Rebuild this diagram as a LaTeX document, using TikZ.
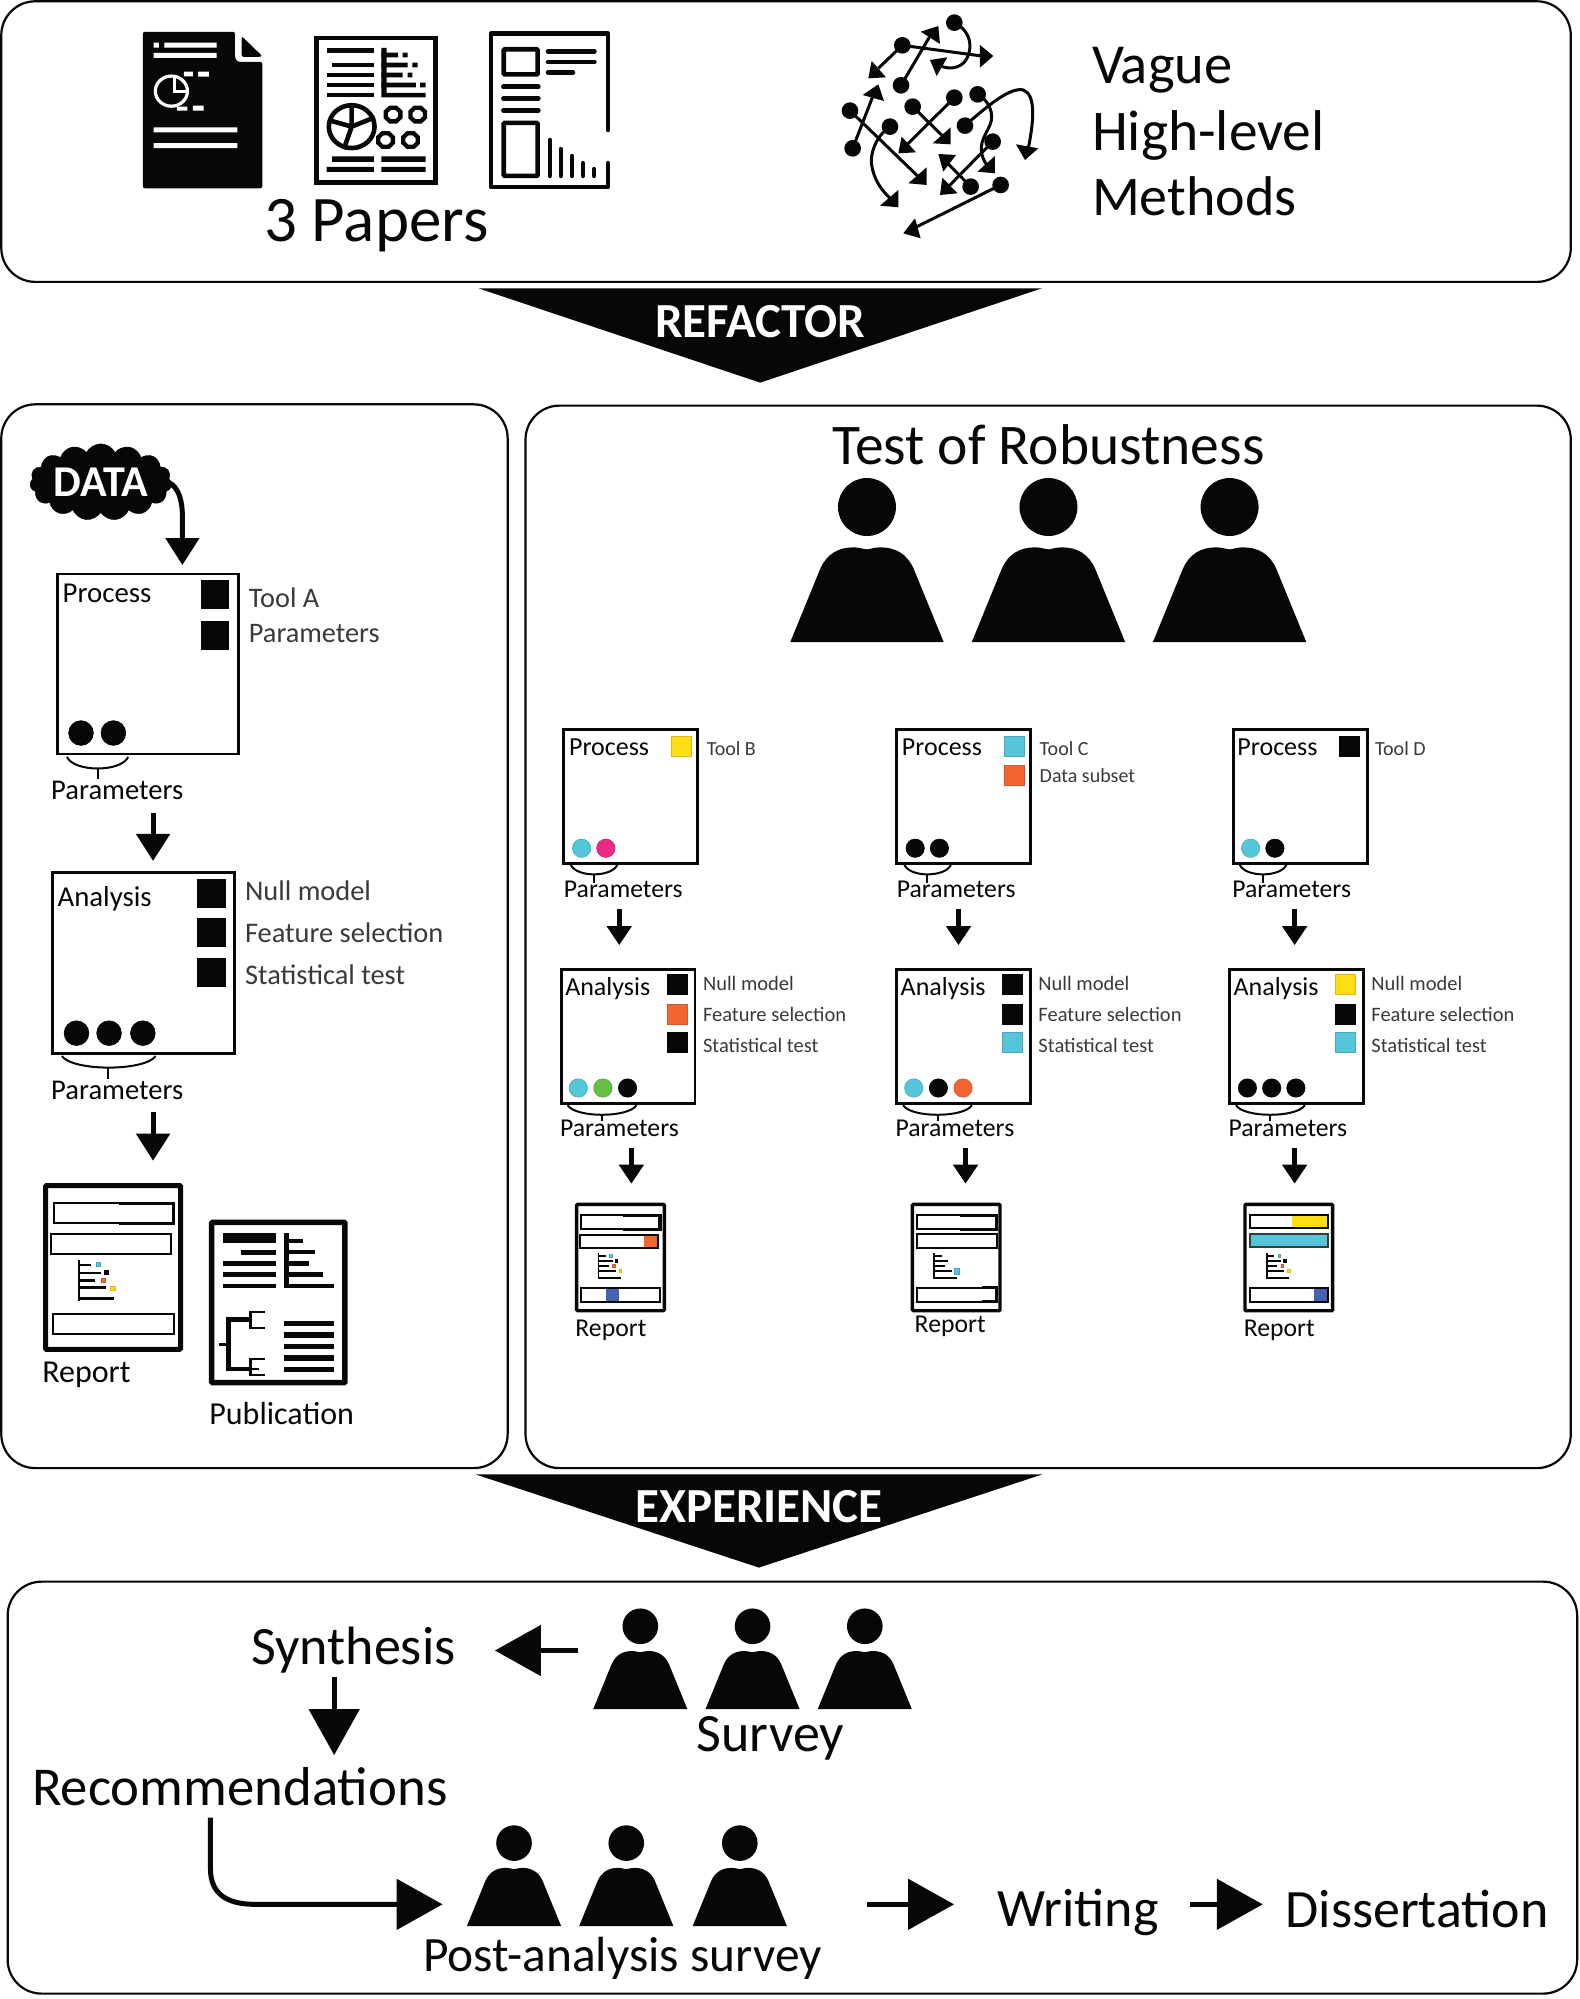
\documentclass[tikz,border=0pt]{standalone}
\usepackage{fontspec}
\setmainfont{Carlito}
\usetikzlibrary{arrows.meta,fit,shapes.symbols}
\definecolor{cyanx}{HTML}{55C6D9}
\definecolor{yelx}{HTML}{FFDD15}
\definecolor{pinkx}{HTML}{EC2A85}
\definecolor{grnx}{HTML}{6ABD45}
\definecolor{orgx}{HTML}{F26531}
\definecolor{blux}{HTML}{4563B0}
\definecolor{inkx}{HTML}{050708}
\definecolor{softx}{HTML}{3A3A3A}
\newcommand\fs[1]{\fontsize{#1}{#1}\selectfont}
\tikzset{
 panel/.style={draw=inkx,line width=2.2pt,rounded corners=34pt,inner sep=0pt,outer sep=0pt},
 bx/.style={draw=inkx,line width=2.6pt,inner sep=0pt,outer sep=0pt},
 txt/.style={anchor=west,inner sep=0pt,text=inkx},
 big/.style={anchor=center,inner sep=0pt,text=inkx,font=\fs{54}},
 soft/.style={anchor=west,inner sep=0pt,text=softx},
 ban/.style={anchor=center,inner sep=0pt,text=white,font=\bfseries\fs{49}},
 arrS/.style={draw=inkx,line width=5pt,-{Triangle[length=19pt,width=24pt,inset=0pt]}},
 arrM/.style={draw=inkx,line width=5pt,-{Triangle[length=27pt,width=33pt,inset=0pt]}},
 arrL/.style={draw=inkx,line width=5pt,-{Triangle[length=46pt,width=50pt,inset=0pt]}},
 rep/.style n args={3}{shift={(#1pt,-#2pt)},x=#3pt,y=-#3pt},
 ic/.style={draw=inkx,line width=4.6pt},
 net/.style={draw=inkx,line width=3pt},
}
\newcommand\person[3]{\begin{scope}[shift={(#1,#2)},x=#3pt,y=-#3pt]
 \fill[inkx] (0,0) circle[radius=87];
 \fill[inkx] (-230,405) -- (-140,185) .. controls (-120,140) and (-85,121) .. (-40,121) .. controls (-20,121) and (-10,127) .. (0,127) .. controls (10,127) and (20,121) .. (40,121) .. controls (85,121) and (120,140) .. (140,185) -- (230,405) -- cycle;
\end{scope}}
\newcommand\sq[4]{\filldraw[fill=#4,draw=#4!85!black,line width=.6pt] (#1,#2) rectangle ++(#3,#3);}
\newcommand\dt[4]{\filldraw[fill=#4,draw=#4!85!black,line width=.6pt] (#1,#2) circle[radius=#3];}
\newcommand\brc[6]{\draw[inkx,line width=2pt] (#1,#3) .. controls ({#1+.12*(#2-#1)},{#3+#4}) and ({#2-.12*(#2-#1)},{#3+#4}) .. (#2,#3);
 \draw[inkx,line width=2pt] (#5,{#3+.75*#4}) -- (#5,#6);}
\newcommand\repbar[4]{\draw[inkx,line width=1.9pt] (#1,#2) rectangle (#3,#4);}
\newcommand\rephalf[4]{\draw[inkx,line width=3pt] (#1,#2) -- (#3,#2) -- (#3,#4) -- (#1,#4);}
\newcommand\repchart[1]{\fill[inkx] (68,150) rectangle (73,229);
 \foreach \yy/\xx in {160/93,175/113,190/102,204/123,225/138}{\fill[inkx] (70,\yy-2.5) rectangle (\xx,\yy+2.5);}
 #1}
\newcommand\allsq{\sq{104}{155}{8}{cyanx}\sq{120}{170}{8}{inkx}\sq{113}{186}{8}{orgx}\sq{132}{201}{8}{yelx}}
\newcommand\octa[3]{\draw[inkx,line width=4.3pt] plot[samples at={22.5,67.5,...,337.5}] ({#1+#3*cos(\x)},{#2+#3*sin(\x)}) -- cycle;}
\begin{document}
\begin{tikzpicture}[x=1.2755pt,y=-1.2755pt]
\useasboundingbox (0pt,0pt) rectangle (1579pt,-1999pt);
\fill[white] (0pt,0pt) rectangle (1579pt,-1999pt);
% panels
\node[panel,fit={(1,1)(1231.5,221)}] (top) {};
\node[panel,fit={(1,317)(398,1151)}] (left) {};
\node[panel,fit={(412,318)(1231.5,1151)}] (right) {};
\node[panel,fit={(6,1240)(1236.5,1563)}] (bottom) {};
% banners
\fill[inkx] (375,226) -- (817,226) -- (596,300) -- cycle;
\node[ban] (refactor) at (596,252) {REFACTOR};
\fill[inkx] (373,1156) -- (817,1156) -- (595,1229) -- cycle;
\node[ban] (experience) at (595,1181) {EXPERIENCE};
% paper icons
\begin{scope}[shift={(100pt,0pt)},x=.357pt,y=-.335pt]
 % paper 1
 \fill[inkx,rounded corners=2pt] (120,95) -- (378,95) -- (378,160) .. controls (378,178) and (385,185) .. (400,185) -- (455,185) -- (455,562) -- (120,562) -- cycle;
 \fill[inkx,rounded corners=2pt] (397,108) -- (455,168) -- (445,170) -- (397,170) -- cycle;
 \fill[white] (150,127) rectangle (165,142) (180,127) rectangle (327,142) (150,158) rectangle (327,173);
 \fill[white] (275,214) rectangle (305,229) (260,315) rectangle (290,330) (150,380) rectangle (385,395) (150,427) rectangle (385,442);
 \fill[white] (235,214) rectangle (260,228) (215,318) rectangle (245,330);
 \draw[white,line width=3.2pt] (200,272) circle[radius=45];
 \draw[white,line width=3.2pt] (208,232) -- (208,272) -- (250,272);
 % paper 2
 \draw[ic] (606,113) rectangle (939,544);
 \foreach \a/\b in {635/143,650/187,635/217,635/247,635/277}{\fill[inkx] (\a,\b) rectangle (767,\b+14);}
 \fill[inkx] (788,143) rectangle (803,291) (788,277) rectangle (912,291);
 \fill[inkx] (788,157) rectangle (835,171) (848,157) rectangle (862,171);
 \fill[inkx] (788,187) rectangle (862,201) (875,187) rectangle (890,201);
 \fill[inkx] (788,217) rectangle (848,231) (862,217) rectangle (875,231);
 \fill[inkx] (788,247) rectangle (885,261) (897,247) rectangle (912,261);
 \draw[ic] (705,378) circle[radius=64];
 \draw[ic] (705,315) -- (705,378) (770,350) -- (705,378) (645,360) -- (705,378) (683,445) -- (705,378);
 \octa{821}{342}{22}\octa{890}{342}{22}\octa{800}{418}{22}\octa{870}{418}{22}
 \fill[inkx] (650,467) rectangle (767,483) (635,498) rectangle (767,513) (788,467) rectangle (912,483) (788,498) rectangle (912,513);
 % paper 3
 \draw[ic,line cap=round,line join=round] (1423,388) -- (1423,100) -- (1095,100) -- (1095,558) -- (1423,558) -- (1423,487);
 \draw[ic,rounded corners=1pt] (1131,147) rectangle (1226,222) (1131,367) rectangle (1226,525);
 \draw[ic,line cap=round] (1255,153) -- (1385,153) (1255,185) -- (1385,185) (1255,216) -- (1325,216);
 \draw[ic,line cap=round] (1130,259) -- (1228,259) (1130,294) -- (1228,294) (1130,329) -- (1228,329);
 \draw[ic,line cap=round] (1260,418) -- (1260,525) (1291,445) -- (1291,525) (1322,466) -- (1322,525) (1353,487) -- (1353,525) (1384,505) -- (1384,525);
\end{scope}
\node[big,font=\fs{65}] (papers) at (295,177) {3 Papers};
% network
\begin{scope}[shift={(800pt,0pt)},x=.3333pt,y=-.3333pt]
 \draw[net] (463,68) .. controls (500,85) and (520,125) .. (505,165) .. controls (495,200) and (455,215) .. (415,195);
 \fill[inkx] (390,180) -- (442,172) -- (410,228) -- cycle;
 \draw[net] (307,136) -- (545,168); \fill[inkx] (540,135) -- (580,168) -- (540,203) -- cycle;
 \draw[net] (307,136) -- (235,205); \fill[inkx] (205,235) -- (258,232) -- (215,183) -- cycle;
 \draw[net] (303,256) -- (392,105); \fill[inkx] (362,95) -- (415,78) -- (420,132) -- cycle;
 \draw[net] (158,445) -- (222,280); \fill[inkx] (188,285) -- (235,253) -- (252,303) -- cycle;
 \draw[net] (150,332) -- (355,530); \fill[inkx] (380,502) -- (380,555) -- (325,550) -- cycle;
 \draw[net] (338,320) -- (430,410); \fill[inkx] (452,382) -- (452,433) -- (398,430) -- cycle;
 \draw[net] (463,293) -- (320,435); \fill[inkx] (295,460) -- (348,457) -- (305,410) -- cycle;
 \draw[net] (270,380) .. controls (225,410) and (205,470) .. (218,510) .. controls (228,550) and (250,575) .. (270,595); \fill[inkx] (295,570) -- (295,622) -- (240,617) -- cycle;
 \draw[net] (533,283) .. controls (565,300) and (585,340) .. (570,375) .. controls (555,410) and (525,440) .. (560,495); \fill[inkx] (585,468) -- (585,520) -- (532,515) -- cycle;
 \draw[net] (495,377) .. controls (560,320) and (630,260) .. (670,270) .. controls (710,285) and (700,370) .. (685,445); \fill[inkx] (648,433) -- (715,445) -- (675,480) -- cycle;
 \draw[net] (578,425) -- (445,560); \fill[inkx] (420,585) -- (473,580) -- (427,533) -- cycle;
 \draw[net] (512,560) -- (440,487); \fill[inkx] (415,462) -- (468,465) -- (430,515) -- cycle;
 \draw[net] (602,555) -- (335,688); \fill[inkx] (310,700) -- (345,655) -- (362,715) -- cycle;
 \foreach \p/\q in {463/68,307/136,303/256,158/445,150/332,338/320,463/293,270/380,533/283,495/377,578/425,512/560,602/555}{\fill[inkx] (\p,\q) circle[radius=25];}
\end{scope}
\node[txt,font=\fs{56.5}] (vague) at (856,55) {Vague};
\node[txt,font=\fs{57.5}] (high) at (856,106) {High-level};
\node[txt,font=\fs{56}] (methods) at (856,154) {Methods};
% left column
\node[cloud,cloud puffs=15,cloud puff arc=125,aspect=2.2,fill=inkx,draw=inkx,minimum width=142pt,minimum height=70pt,inner sep=0pt,text=white,font=\bfseries\fs{44}] (data) at (79,378) {DATA};
\coordinate (dataend) at (143,443);
\draw[arrM] (132,378) .. controls (140,382) and (143,392) .. (143,405) -- (dataend);
\node[bx,fit={(45,450)(187,591)}] (pA) {};
\node[txt,font=\fs{28.8}] (pAt) at (49,465) {Process};
\sq{157.6}{455}{21.7}{inkx}\sq{157.6}{487}{21.7}{inkx}
\node[soft,font=\fs{28.3}] (tA) at (195,469) {Tool A};
\node[soft,font=\fs{28.3}] (tAp) at (195,497) {Parameters};
\dt{63.5}{574.7}{9.7}{inkx}\dt{88.9}{574.7}{9.7}{inkx}
\brc{52.5}{100.5}{593.5}{12}{77}{611}
\node[txt,font=\fs{28.6}] (pAl) at (40,620) {Parameters};
\coordinate (a1a) at (120,637); \coordinate (a1b) at (120,675);
\draw[arrM] (a1a) -- (a1b);
\node[bx,fit={(41,684)(184,826)}] (aA) {};
\node[txt,font=\fs{28.8}] (aAt) at (45,705) {Analysis};
\sq{155}{689}{22}{inkx}\sq{155}{720}{22}{inkx}\sq{155}{751}{22}{inkx}
\node[soft,font=\fs{28.4}] at (192,698) (nA) {Null model};
\node[soft,font=\fs{28.4}] at (192,731) (fA) {Feature selection};
\node[soft,font=\fs{28.4}] at (192,764) (sA) {Statistical test};
\dt{60}{810}{9.7}{inkx}\dt{85.5}{810}{9.7}{inkx}\dt{112}{810}{9.7}{inkx}
\brc{48.5}{122}{828}{12}{85}{846}
\node[txt,font=\fs{28.6}] (aAl) at (40,855) {Parameters};
\coordinate (a2a) at (120,872); \coordinate (a2b) at (120,910);
\draw[arrM] (a2a) -- (a2b);
% report A
\begin{scope}[rep={43}{1183}{.5133}]
 \draw[inkx,line width=5pt,rounded corners=1pt] (5,5) rectangle (268,324);
 \repbar{21}{39}{255}{78}\rephalf{148}{39}{255}{78}
 \repbar{16}{99}{250}{138}\repbar{19}{256}{255}{295}
 \repchart{\allsq}
\end{scope}
\node[txt,font=\fs{32}] (repA) at (33,1078) {Report};
% publication
\begin{scope}[shift={(20pt,-1160pt)},x=.3333pt,y=-.3333pt]
 \draw[inkx,line width=5.5pt,rounded corners=1pt] (575,187) rectangle (975,668);
 \fill[inkx] (608,218) rectangle (767,248);
 \foreach \a/\b in {663/278,608/310,608/344,608/378}{\fill[inkx] (\a,\b-7) rectangle (767,\b+7);}
 \fill[inkx] (793,218) rectangle (807,385);
 \foreach \a/\b in {850/243,885/276,867/310,910/344,943/378}{\fill[inkx] (800,\b-7) rectangle (\a,\b+7);}
 \foreach \b in {490,525,560,594,629}{\fill[inkx] (792,\b-8) rectangle (943,\b+8);}
 \draw[inkx,line width=3.4pt] (597,553) -- (625,553);
 \draw[inkx,line width=4.4pt] (695,478) -- (625,478) -- (625,627) -- (695,627);
 \draw[inkx,line width=2.3pt] (735,457) -- (692,457) -- (692,505) -- (735,505);
 \draw[inkx,line width=2.3pt] (735,597) -- (692,597) -- (692,645) -- (735,645);
 \draw[inkx,line width=2.6pt] (692,627) -- (718,627);
\end{scope}
\node[txt,font=\fs{32}] (pub) at (164,1108) {Publication};
% heading right
\node[big,font=\fs{57.5}] (robust) at (822,349) {Test of Robustness};
\person{679.7}{397.5}{.3333}\person{822}{397.5}{.3333}\person{964}{397.5}{.3333}
% column B
\node[bx,fit={(442,572)(547,677)}] (pB) {};
\node[txt,font=\fs{26}] (pBt) at (446,586) {Process};
\sq{526}{577}{15.7}{yelx}
\node[soft,font=\fs{20}] (tB) at (554,587) {Tool B};
\dt{456}{665}{7.2}{cyanx}\dt{475}{665}{7.2}{pinkx}
\brc{447.5}{484}{678}{10}{465.7}{692}
\node[txt,font=\fs{25.7}] (pBl) at (442,697) {Parameters};
\coordinate (b1a) at (485.5,713); \coordinate (b1b) at (485.5,741);
\draw[arrS] (b1a) -- (b1b);
\node[bx,fit={(440,760)(545,865)}] (aB) {};
\node[txt,font=\fs{26}] (aBt) at (443,775) {Analysis};
\sq{523}{764}{15.7}{inkx}\sq{523}{787}{15.7}{orgx}\sq{523}{809.5}{15.7}{inkx}
\node[soft,font=\fs{20.5}] (nB) at (551,771) {Null model};
\node[soft,font=\fs{20.5}] (fB) at (551,795) {Feature selection};
\node[soft,font=\fs{20.5}] (sB) at (551,819.5) {Statistical test};
\dt{453.4}{853}{7.2}{cyanx}\dt{472.7}{853}{7.2}{grnx}\dt{492}{853}{7.2}{inkx}
\brc{445}{499}{866.5}{10}{471.7}{879}
\node[txt,font=\fs{25.7}] (aBl) at (439,885) {Parameters};
\coordinate (b2a) at (495,900); \coordinate (b2b) at (495,928);
\draw[arrS] (b2a) -- (b2b);
\begin{scope}[rep={575}{1202.7}{.3333}]
 \fill[orgx] (208,97) rectangle (250,137);
 \fill[blux] (92,257) rectangle (133,297);
 \draw[inkx,line width=3.4pt,rounded corners=1pt] (5,5) rectangle (268,324);
 \repbar{18}{37}{255}{79}\rephalf{145}{37}{255}{79}
 \repbar{14}{97}{250}{137}\repbar{18}{257}{254}{297}
 \repchart{\allsq}
\end{scope}
\node[txt,font=\fs{25.7}] (repB) at (451,1043) {Report};
% column C
\node[bx,fit={(703,572)(808,677)}] (pC) {};
\node[txt,font=\fs{26}] (pCt) at (707,586) {Process};
\sq{787}{577}{15.7}{cyanx}\sq{787}{600}{15.7}{orgx}
\node[soft,font=\fs{20}] (tC) at (815,587) {Tool C};
\node[soft,font=\fs{20}] (dC) at (815,608) {Data subset};
\dt{717.5}{665}{7.2}{inkx}\dt{736.5}{665}{7.2}{inkx}
\brc{709}{745.5}{678}{10}{727}{692}
\node[txt,font=\fs{25.7}] (pCl) at (703,697) {Parameters};
\coordinate (c1a) at (751.5,713); \coordinate (c1b) at (751.5,741);
\draw[arrS] (c1a) -- (c1b);
\node[bx,fit={(703,760)(808,865)}] (aC) {};
\node[txt,font=\fs{26}] (aCt) at (706,775) {Analysis};
\sq{786}{764}{15.7}{inkx}\sq{786}{787}{15.7}{inkx}\sq{786}{809.5}{15.7}{cyanx}
\node[soft,font=\fs{20.5}] (nC) at (814,771) {Null model};
\node[soft,font=\fs{20.5}] (fC) at (814,795) {Feature selection};
\node[soft,font=\fs{20.5}] (sC) at (814,819.5) {Statistical test};
\dt{716.4}{853}{7.2}{cyanx}\dt{735.7}{853}{7.2}{inkx}\dt{755}{853}{7.2}{orgx}
\brc{708}{762}{866.5}{10}{735}{879}
\node[txt,font=\fs{25.7}] (aCl) at (702,885) {Parameters};
\coordinate (c2a) at (757,900); \coordinate (c2b) at (757,928);
\draw[arrS] (c2a) -- (c2b);
\begin{scope}[rep={910.7}{1202.7}{.3333}]
 \draw[inkx,line width=3.4pt,rounded corners=1pt] (5,5) rectangle (268,324);
 \repbar{20}{37}{258}{79}\rephalf{148}{37}{258}{79}
 \repbar{20}{94}{258}{135}\repbar{20}{255}{258}{297}\rephalf{215}{255}{258}{297}
 \repchart{\sq{130}{198}{16}{cyanx}}
\end{scope}
\node[txt,font=\fs{25.7}] (repC) at (717,1040) {Report};
% column D
\node[bx,fit={(967,572)(1072,677)}] (pD) {};
\node[txt,font=\fs{26}] (pDt) at (970,586) {Process};
\sq{1050}{577}{15.7}{inkx}
\node[soft,font=\fs{20}] (tD) at (1078,587) {Tool D};
\dt{980.5}{665}{7.2}{cyanx}\dt{999.5}{665}{7.2}{inkx}
\brc{972}{1008.5}{678}{10}{990}{692}
\node[txt,font=\fs{25.7}] (pDl) at (966,697) {Parameters};
\coordinate (d1a) at (1015,713); \coordinate (d1b) at (1015,741);
\draw[arrS] (d1a) -- (d1b);
\node[bx,fit={(964,760)(1069,865)}] (aD) {};
\node[txt,font=\fs{26}] (aDt) at (967,775) {Analysis};
\sq{1047}{764}{15.7}{yelx}\sq{1047}{787}{15.7}{inkx}\sq{1047}{809.5}{15.7}{cyanx}
\node[soft,font=\fs{20.5}] (nD) at (1075,771) {Null model};
\node[soft,font=\fs{20.5}] (fD) at (1075,795) {Feature selection};
\node[soft,font=\fs{20.5}] (sD) at (1075,819.5) {Statistical test};
\dt{978}{853}{7.2}{inkx}\dt{997}{853}{7.2}{inkx}\dt{1016}{853}{7.2}{inkx}
\brc{969}{1023}{866.5}{10}{996}{879}
\node[txt,font=\fs{25.7}] (aDl) at (963,885) {Parameters};
\coordinate (d2a) at (1015,900); \coordinate (d2b) at (1015,928);
\draw[arrS] (d2a) -- (d2b);
\begin{scope}[rep={1243.3}{1202.7}{.3333}]
 \fill[yelx] (145,37) rectangle (255,77);
 \fill[cyanx] (20,95) rectangle (255,134);
 \fill[blux] (213,257) rectangle (255,297);
 \draw[inkx,line width=3.4pt,rounded corners=1pt] (5,5) rectangle (268,324);
 \repbar{20}{37}{255}{77}
 \draw[softx,line width=1.9pt] (20,95) rectangle (255,134);
 \repbar{20}{257}{255}{297}
 \repchart{\allsq}
\end{scope}
\node[txt,font=\fs{25.7}] (repD) at (975,1043) {Report};
% bottom
\node[big] (syn) at (277,1294) {Synthesis};
\coordinate (sv1) at (453,1294); \coordinate (sy1) at (388,1294);
\draw[arrL] (sv1) -- (sy1);
\person{502}{1275}{.2047}\person{590}{1275}{.2047}\person{678}{1275}{.2047}
\node[big] (survey) at (604,1363) {Survey};
\coordinate (syd) at (262,1315); \coordinate (rec1) at (262,1376);
\draw[arrL] (syd) -- (rec1);
\node[big,font=\fs{54.8}] (rec) at (188,1401) {Recommendations};
\coordinate (rc) at (165,1425); \coordinate (pa) at (347,1493);
\draw[arrL] (rc) -- (165,1465) .. controls (165,1485) and (178,1493) .. (200,1493) -- (pa);
\person{403}{1445}{.2047}\person{491}{1445}{.2047}\person{580}{1445}{.2047}
\node[big,font=\fs{49.4}] (post) at (488,1535) {Post-analysis survey};
\coordinate (w1) at (680,1493); \coordinate (w2) at (748,1493);
\draw[arrL] (w1) -- (w2);
\node[big] (writing) at (845,1499) {Writing};
\coordinate (w3) at (933,1493); \coordinate (w4) at (990,1493);
\draw[arrL] (w3) -- (w4);
\node[big] (diss) at (1111,1497) {Dissertation};
\end{tikzpicture}
\end{document}
